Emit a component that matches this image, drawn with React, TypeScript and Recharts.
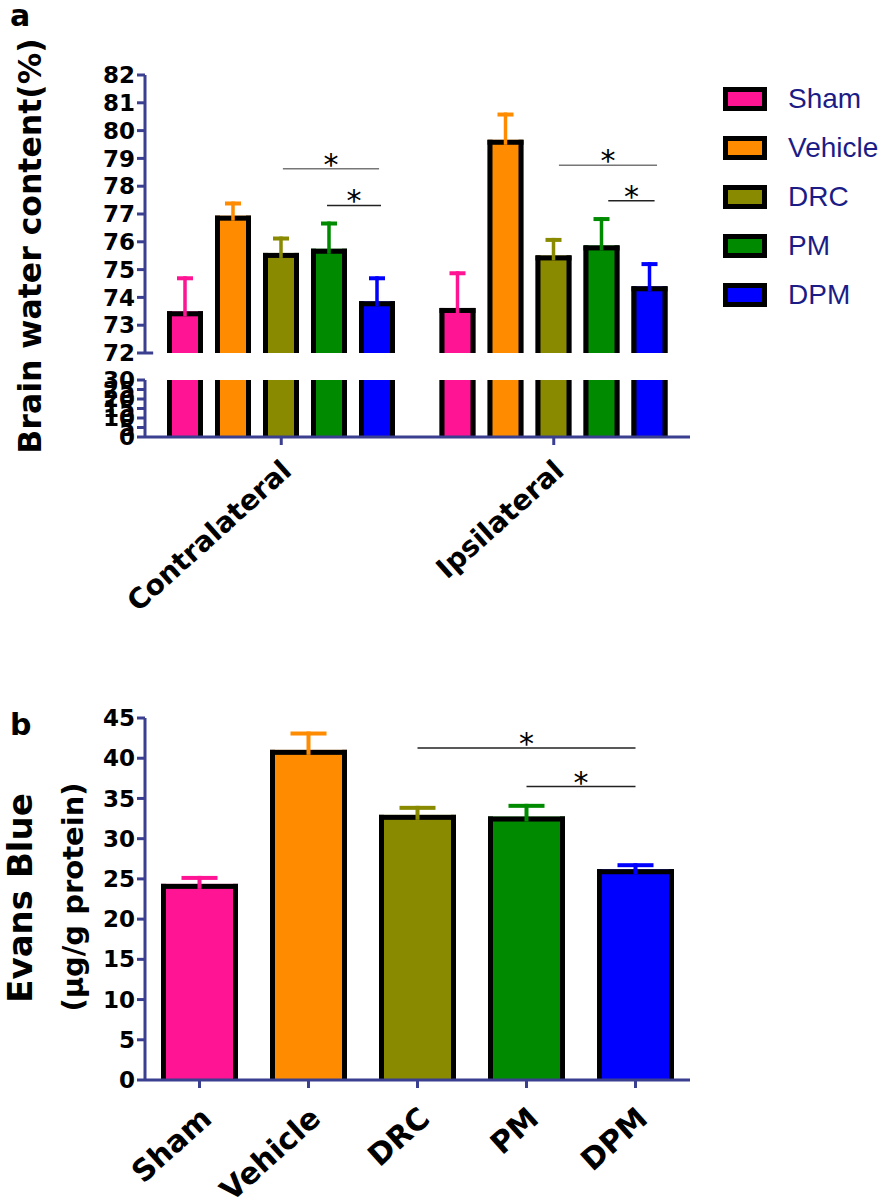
import React from "react";
import { BarChart, Bar, LineChart, XAxis, YAxis, ReferenceLine } from "recharts";

const groups = ["Contralateral", "Ipsilateral"];
const treatments = ["Sham", "Vehicle", "DRC", "PM", "DPM"];
const colors = ["#ff1493", "#ff8c00", "#8a8a00", "#008a00", "#0000ff"];

// brain water content (%), mean and sem per treatment
const contraMean = [73.5, 76.94, 75.6, 75.75, 73.86];
const contraSem = [1.26, 0.51, 0.59, 0.98, 0.9];
const ipsiMean = [73.62, 79.67, 75.51, 75.87, 74.4];
const ipsiSem = [1.32, 0.98, 0.63, 1.02, 0.87];

// evans blue (ug/g protein)
const evansMean = [24.38, 41.04, 32.96, 32.75, 26.2];
const evansSem = [0.99, 2.28, 1.12, 1.58, 0.75];

const upperTicks = [72, 73, 74, 75, 76, 77, 78, 79, 80, 81, 82];
const lowerTicks = [0, 5, 10, 15, 20, 25, 30];
const evansTicks = [0, 5, 10, 15, 20, 25, 30, 35, 40, 45];

// significance bars: start, end (in group units, 0..2), height
const waterSig = [
  [0.506, 0.859, 78.63],
  [0.668, 0.866, 77.31],
  [1.519, 1.879, 78.75],
  [1.7, 1.87, 77.48],
];
const evansSig: [string, string, number][] = [
  ["DRC", "DPM", 41.26],
  ["PM", "DPM", 36.48],
];

const waterData = groups.map((g, gi) => {
  const m = gi === 0 ? contraMean : ipsiMean;
  const s = gi === 0 ? contraSem : ipsiSem;
  const row: any = { group: g };
  treatments.forEach((t, i) => {
    row[t] = m[i];
    row[t + "Sem"] = s[i];
  });
  return row;
});

const sigData = waterSig.map(([x1, x2, y]) => ({ x1, x2, y }));

const evansData = treatments.map((t, i) => ({
  name: t,
  value: evansMean[i],
  sem: evansSem[i],
}));

const NAVY = "#3b3f8f";
const BORDER = 5;

function drawBar(
  p: any,
  color: string,
  value: number,
  sem: number,
  base: number,
  capW: number,
  stem: number,
  open: boolean
) {
  const { x, y, width, height } = p;
  if (x == null || y == null) return <g />;
  const cx = x + width / 2;
  const parts = [
    <rect key="f" x={x} y={y} width={width} height={height} fill={color} />,
    <rect key="l" x={x} y={y} width={BORDER} height={height} fill="#000" />,
    <rect key="r" x={x + width - BORDER} y={y} width={BORDER} height={height} fill="#000" />,
  ];
  if (!open) {
    const ppu = height / (value - base);
    const errY = y - sem * ppu;
    parts.push(<rect key="t" x={x} y={y} width={width} height={BORDER} fill="#000" />);
    parts.push(
      <rect key="s" x={cx - stem / 2} y={errY} width={stem} height={y - errY + BORDER} fill={color} />
    );
    parts.push(<rect key="c" x={cx - capW / 2} y={errY} width={capW} height={4} fill={color} />);
  }
  return <g>{parts}</g>;
}

const tickFont = { fill: "#000", fontSize: 23, fontWeight: "bold", fontFamily: "DejaVu Sans" };
const starLabel = { value: "*", position: "top" as const, offset: -6, fontSize: 30, fill: "#000" };

const RotTick = ({ x, y, payload, size, dx, dy }: any) => {
  const tx = x + dx;
  const ty = y + dy;
  return (
    <text
      x={tx}
      y={ty}
      transform={`rotate(-42 ${tx} ${ty})`}
      textAnchor="end"
      fontSize={size}
      fontWeight="bold"
      fontFamily="DejaVu Sans"
      fill="#000"
    >
      {payload.value}
    </text>
  );
};

export default function App() {
  return (
    <div
      style={{
        position: "absolute",
        left: 0,
        top: 0,
        width: 889,
        height: 1203,
        background: "#fff",
        fontFamily: "'DejaVu Sans', sans-serif",
      }}
    >
      {/* panel a, upper segment */}
      <div style={{ position: "absolute", left: 0, top: 0 }}>
        <BarChart
          width={889}
          height={368}
          data={waterData}
          margin={{ top: 75, right: 199, left: 85, bottom: 15 }}
          barSize={36}
          barGap={12}
        >
          <XAxis dataKey="group" hide />
          <YAxis
            width={60}
            domain={[72, 82]}
            ticks={upperTicks}
            interval={0}
            allowDataOverflow
            tick={tickFont}
            tickSize={8}
            axisLine={{ stroke: NAVY, strokeWidth: 3 }}
            tickLine={{ stroke: NAVY, strokeWidth: 3 }}
          />
          {treatments.map((t, i) => (
            <Bar
              key={t}
              dataKey={t}
              isAnimationActive={false}
              shape={(p: any) =>
                drawBar(p, colors[i], p.payload[t], p.payload[t + "Sem"], 72, 16, 3.5, false)
              }
            />
          ))}
        </BarChart>
      </div>

      {/* panel a, significance bars on the same plot area */}
      <div style={{ position: "absolute", left: 0, top: 0 }}>
        <LineChart
          width={889}
          height={368}
          data={sigData}
          margin={{ top: 75, right: 199, left: 145, bottom: 15 }}
        >
          <XAxis type="number" dataKey="x1" domain={[0, 2]} hide />
          <YAxis type="number" dataKey="y" domain={[72, 82]} hide />
          <ReferenceLine
            segment={[
              { x: 0, y: 72 },
              { x: 0.03, y: 72 },
            ]}
            stroke={NAVY}
            strokeWidth={3}
          />
          {sigData.map((s, i) => (
            <ReferenceLine
              key={i}
              segment={[
                { x: s.x1, y: s.y },
                { x: s.x2, y: s.y },
              ]}
              stroke={i % 2 === 0 ? "#777" : "#222"}
              strokeWidth={1.5}
              label={starLabel}
            />
          ))}
        </LineChart>
      </div>

      {/* panel a, lower segment */}
      <div style={{ position: "absolute", left: 0, top: 360 }}>
        <BarChart
          width={889}
          height={260}
          data={waterData}
          margin={{ top: 20, right: 199, left: 85, bottom: 0 }}
          barSize={36}
          barGap={12}
        >
          <XAxis
            dataKey="group"
            height={183}
            interval={0}
            tickSize={8}
            axisLine={{ stroke: NAVY, strokeWidth: 3 }}
            tickLine={{ stroke: NAVY, strokeWidth: 3 }}
            tick={<RotTick size={28} dx={12} dy={26} />}
          />
          <YAxis
            width={60}
            domain={[0, 30]}
            ticks={lowerTicks}
            interval={0}
            allowDataOverflow
            tick={tickFont}
            tickSize={8}
            axisLine={{ stroke: NAVY, strokeWidth: 3 }}
            tickLine={{ stroke: NAVY, strokeWidth: 3 }}
          />
          {treatments.map((t, i) => (
            <Bar
              key={t}
              dataKey={t}
              isAnimationActive={false}
              shape={(p: any) => drawBar(p, colors[i], p.payload[t], 0, 0, 0, 0, true)}
            />
          ))}
        </BarChart>
      </div>

      {/* legend */}
      {treatments.map((t, i) => (
        <div
          key={t}
          style={{
            position: "absolute",
            left: 723,
            top: 87 + i * 49,
            height: 24,
            display: "flex",
            alignItems: "center",
          }}
        >
          <div
            style={{
              width: 34,
              height: 14,
              border: "5px solid #000",
              background: colors[i],
            }}
          />
          <span
            style={{
              marginLeft: 21,
              fontFamily: "'Liberation Sans', Arial, sans-serif",
              fontSize: 28,
              color: "#1c1c86",
              lineHeight: "24px",
            }}
          >
            {t}
          </span>
        </div>
      ))}

      {/* panel b */}
      <div style={{ position: "absolute", left: 0, top: 700 }}>
        <BarChart
          width={889}
          height={503}
          data={evansData}
          margin={{ top: 18, right: 199, left: 85, bottom: 0 }}
          barSize={77}
        >
          <XAxis
            dataKey="name"
            height={123}
            interval={0}
            tickSize={8}
            axisLine={{ stroke: NAVY, strokeWidth: 3 }}
            tickLine={{ stroke: NAVY, strokeWidth: 3 }}
            tick={<RotTick size={30} dx={14} dy={31} />}
          />
          <YAxis
            width={60}
            domain={[0, 45]}
            ticks={evansTicks}
            interval={0}
            tick={tickFont}
            tickSize={8}
            axisLine={{ stroke: NAVY, strokeWidth: 3 }}
            tickLine={{ stroke: NAVY, strokeWidth: 3 }}
          />
          <Bar
            dataKey="value"
            isAnimationActive={false}
            shape={(p: any) =>
              drawBar(
                p,
                colors[treatments.indexOf(p.payload.name)],
                p.payload.value,
                p.payload.sem,
                0,
                36,
                4,
                false
              )
            }
          />
          {evansSig.map(([a, b, y], i) => (
            <ReferenceLine
              key={i}
              segment={[
                { x: a, y },
                { x: b, y },
              ]}
              stroke="#222"
              strokeWidth={1.5}
              label={starLabel}
            />
          ))}
        </BarChart>
      </div>

      {/* titles */}
      <svg
        width={889}
        height={1203}
        style={{ position: "absolute", left: 0, top: 0, pointerEvents: "none" }}
        fontFamily="DejaVu Sans"
        fontWeight="bold"
      >
        <text x={10} y={26} fontSize={30}>
          a
        </text>
        <text x={10} y={735} fontSize={30}>
          b
        </text>
        <text x={41} y={246} fontSize={31.5} textAnchor="middle" transform="rotate(-90 41 246)">
          Brain water content(%)
        </text>
        <text x={32} y={898} fontSize={34} textAnchor="middle" transform="rotate(-90 32 898)">
          Evans Blue
        </text>
        <text x={83} y={897} fontSize={29} textAnchor="middle" transform="rotate(-90 83 897)">
          (μg/g protein)
        </text>
      </svg>
    </div>
  );
}
